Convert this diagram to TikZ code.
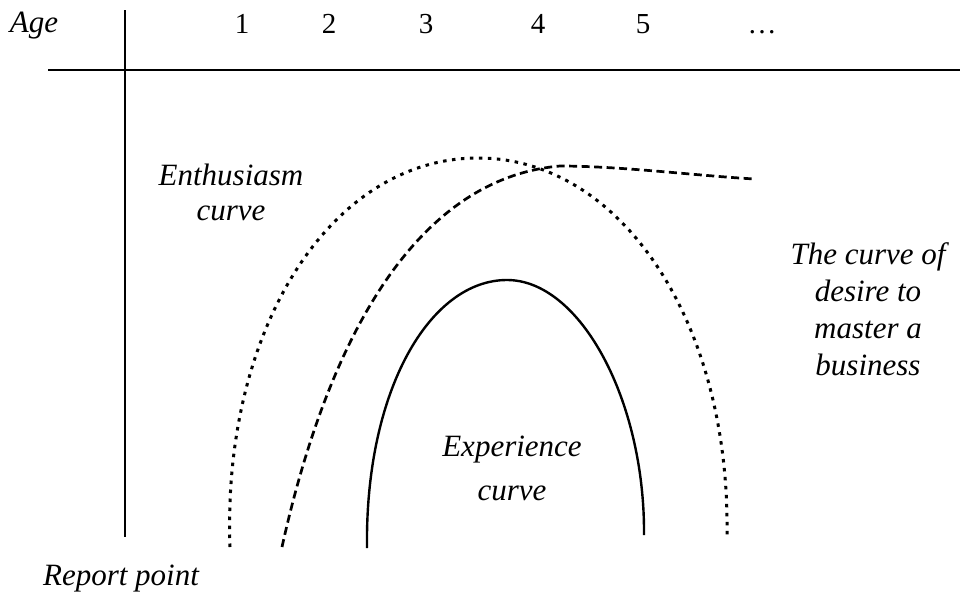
\documentclass[tikz,border=0pt]{standalone}
\usepackage{fontspec}
\setmainfont{Liberation Serif}
\begin{document}
\begin{tikzpicture}[x=1pt,y=-1pt,
  toplab/.style={font=\fontsize{29}{30}\selectfont, anchor=base, inner sep=0pt},
  lab/.style={font=\fontsize{31}{36.7}\selectfont\itshape, align=center, anchor=base, inner sep=0pt},
  axis/.style={line width=1.8pt},
  curvedot/.style={line width=3pt, dash pattern=on 3.5pt off 5.5pt},
  curvedash/.style={line width=2.7pt, dash pattern=on 8pt off 4.5pt},
  curvesolid/.style={line width=2.4pt}]
\useasboundingbox (0,0) rectangle (960,597);
% axes
\coordinate (vtop) at (125,10);
\coordinate (vbot) at (125,537);
\coordinate (hl) at (48,70);
\coordinate (hr) at (960,70);
\draw[axis] (vtop) -- (vbot);
\draw[axis] (hl) -- (hr);
% top labels
\node[toplab, font=\fontsize{31}{30}\selectfont\itshape] (age) at (34,32) {Age};
\node[toplab] (n1) at (242,33) {1};
\node[toplab] (n2) at (329,33) {2};
\node[toplab] (n3) at (426,33) {3};
\node[toplab] (n4) at (538,33) {4};
\node[toplab] (n5) at (643,33) {5};
\node[toplab] (n6) at (762,33) {\dots};
% curve points
\coordinate (dotL) at (230,547);
\coordinate (dotT) at (478,158);
\coordinate (dotR) at (727,535);
\coordinate (dashL) at (282,547);
\coordinate (dashT) at (560,166);
\coordinate (dashR) at (755,179);
\coordinate (solL) at (367,548);
\coordinate (solT) at (507,280);
\coordinate (solR) at (644,535);
% curves
\draw[curvedot] (dotL) .. controls (222,330) and (330,158) .. (dotT)
  .. controls (620,158) and (730,320) .. (dotR);
\draw[curvedash] (dashL) .. controls (330,330) and (420,178) .. (dashT)
  .. controls (620,166) and (700,176) .. (dashR);
\draw[curvesolid] (solL) .. controls (365,390) and (430,280) .. (solT)
  .. controls (580,280) and (645,400) .. (solR);
% labels
\node[lab] (enth) at (231,220) {Enthusiasm\\[-1.7pt]curve};
\node[lab] (exper) at (512,500) {Experience\\[7pt]curve};
\node[lab] (desire) at (868,375) {The curve of\\desire to\\master a\\business};
\node[lab] (report) at (121,585) {Report point};
\end{tikzpicture}
\end{document}
